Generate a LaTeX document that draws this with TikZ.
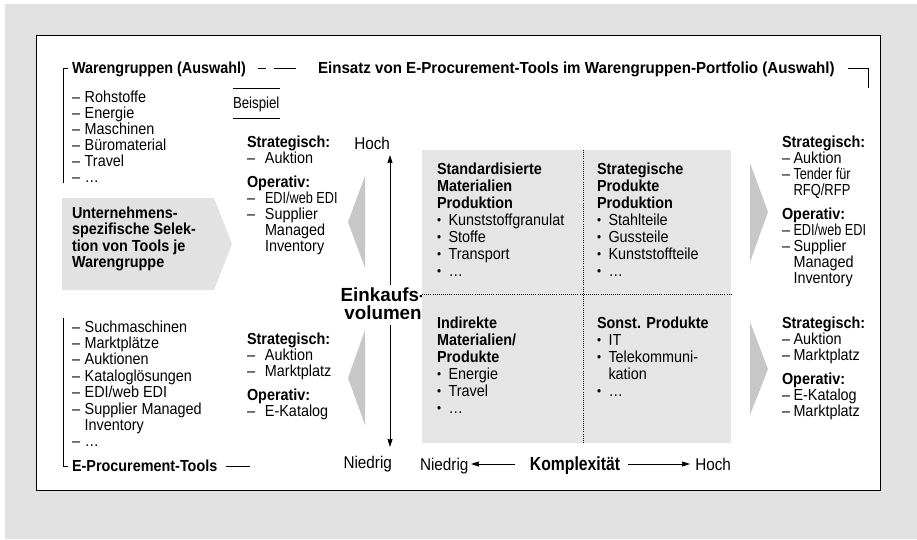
\documentclass[tikz,border=0pt]{standalone}
\usepackage{fontspec}
\setmainfont{Liberation Sans}[FakeStretch=0.9]
\usetikzlibrary{arrows.meta}
\definecolor{bggray}{RGB}{226,226,226}
\definecolor{quadgray}{RGB}{229,229,229}
\definecolor{boxgray}{RGB}{226,226,226}
\definecolor{trigray}{RGB}{199,199,199}
\newcommand\fsN{\fontsize{16}{16}\selectfont}
\newcommand\fsQ{\fontsize{16}{17}\selectfont}
\newcommand\fsAx{\fontsize{17}{18}\selectfont}
\newcommand\fsAxB{\fontsize{19}{18}\selectfont\bfseries}
\newcommand\dL[1]{\makebox[12.7pt][l]{–}#1}
\newcommand\dM[1]{\makebox[18pt][l]{–}#1}
\newcommand\dR[1]{\makebox[11.5pt][l]{–}#1}
\newcommand\bL[1]{\makebox[11.5pt][l]{\raisebox{0.6pt}{\scalebox{0.8}{•}}}#1}
\newcommand\nrw[2]{\scalebox{#1}[1]{#2}}
\begin{document}
\begin{tikzpicture}[x=1pt,y=-1pt,
  txt/.style={inner sep=0pt,outer sep=0pt,align=left,anchor=north west,font=\fsN},
  one/.style={inner sep=0pt,outer sep=0pt,anchor=base west,font=\fsN},
  brk/.style={line width=0.8pt},
  tri/.style={fill=trigray,draw=none},
  axarr/.style={line width=0.8pt,-{Stealth[length=8pt,width=5pt,inset=0.5pt]}},
  dotl/.style={line width=0.7pt,dash pattern=on 0.7pt off 1.4pt}]
\useasboundingbox (0,0) rectangle (917,539);
\fill[white] (0,0) rectangle (917,539);
\fill[bggray] (5,4) rectangle (917,539);
\draw[fill=white,line width=1pt] (36,35) rectangle (880,490);

% header
\node[one,font=\fsN\bfseries] (hl) at (72,73.5) {Warengruppen (Auswahl)};
\node[one,font=\fsN\bfseries] (hr) at (318,73.5) {\nrw{1.05}{Einsatz von E-Procurement-Tools im Warengruppen-Portfolio (Auswahl)}};
\draw[brk] (63,183) -- (63,68) -- (68,68);
\draw[brk] (258,68) -- (266,68);
\draw[brk] (274,68) -- (296,68);
\draw[brk] (848,68) -- (868,68) -- (868,88);

% left upper list
\node[txt] (lu) at (72,90.5) {\dL{Rohstoffe}\\\dL{Energie}\\\dL{Maschinen}\\\dL{Büromaterial}\\\dL{Travel}\\\dL{…}};

% left arrow box
\fill[boxgray] (62,198) -- (214,198) -- (232,244) -- (214,290) -- (62,290) -- cycle;
\node[txt,font=\fontsize{16}{16.6}\selectfont\bfseries] (ub) at (72,206.5) {Unternehmens-\\spezifische Selek-\\tion von Tools je\\Warengruppe};

% left lower list
\draw[brk] (63,318) -- (63,466) -- (68,466);
\node[txt,font=\fontsize{16}{16.4}\selectfont] (ll) at (72,320.5) {\dL{Suchmaschinen}\\\dL{Marktplätze}\\\dL{Auktionen}\\\dL{Kataloglösungen}\\\dL{EDI/web EDI}\\\dL{Supplier Managed}\\\hspace*{12.7pt}Inventory\\\dL{…}};
\node[one,font=\fsN\bfseries] (ep) at (72,471.5) {E-Procurement-Tools};
\draw[brk] (226,466) -- (250,466);

% Beispiel
\node[one] (bsp) at (233,108.5) {\nrw{0.92}{Beispiel}};
\draw[brk] (233,88) -- (280,88);
\draw[brk] (233,118) -- (280,118);

% middle columns
\node[txt] (mu) at (247,135.5) {\textbf{Strategisch:}\\\dM{Auktion}\\[8pt]\textbf{Operativ:}\\\dM{\nrw{0.88}{EDI/web EDI}}\\\dM{Supplier}\\\hspace*{18pt}Managed\\\hspace*{18pt}Inventory};
\node[txt] (ml) at (247,332.5) {\textbf{Strategisch:}\\\dM{Auktion}\\\dM{Marktplatz}\\[8pt]\textbf{Operativ:}\\\dM{E-Katalog}};
\fill[tri] (365,176) -- (348,222) -- (365,268) -- cycle;
\fill[tri] (365,330) -- (348,378) -- (365,425) -- cycle;

% vertical axis
\node[one,anchor=base east,font=\fsAx] (hochv) at (390,149) {Hoch};
\node[one,anchor=base east,font=\fsAx] (niedv) at (392,468) {Niedrig};
\node[inner sep=0pt,align=center,anchor=north,font=\fsAxB] (eink) at (383,288) {\nrw{1.1}{Einkaufs-}\\\nrw{1.1}{volumen}};
\coordinate (vu1) at (390,285);
\coordinate (vu2) at (390,155);
\coordinate (vl1) at (390,325);
\coordinate (vl2) at (390,447);
\draw[axarr] (vu1) -- (vu2);
\draw[axarr] (vl1) -- (vl2);

% quadrant
\fill[quadgray] (422,150) rectangle (731,443);
\draw[dotl] (583,150) -- (583,443);
\draw[dotl] (422,294) -- (731,294);
\node[txt,font=\fsQ] (qa) at (437,162.5) {\textbf{Standardisierte}\\\textbf{Materialien}\\\textbf{Produktion}\\\bL{Kunststoffgranulat}\\\bL{Stoffe}\\\bL{Transport}\\\bL{…}};
\node[txt,font=\fsQ] (qb) at (597,162.5) {\textbf{Strategische}\\\textbf{Produkte}\\\textbf{Produktion}\\\bL{Stahlteile}\\\bL{Gussteile}\\\bL{Kunststoffteile}\\\bL{…}};
\node[txt,font=\fsQ] (qc) at (437,316.5) {\textbf{Indirekte}\\\textbf{Materialien/}\\\textbf{Produkte}\\\bL{Energie}\\\bL{Travel}\\\bL{…}};
\node[txt,font=\fsQ] (qd) at (597,316.5) {\textbf{Sonst. Produkte}\\\bL{IT}\\\bL{Telekommuni-}\\\hspace*{11.5pt}kation\\\bL{…}};

% horizontal axis
\node[one,font=\fsAx] (niedh) at (420,470) {Niedrig};
\node[one,anchor=base,font=\fsAxB] (komp) at (575,470) {\nrw{0.92}{Komplexität}};
\node[one,anchor=base east,font=\fsAx] (hochh) at (731,470) {Hoch};
\coordinate (ha1) at (515,464);
\coordinate (ha2) at (471,464);
\coordinate (hb1) at (628,464);
\coordinate (hb2) at (690,464);
\draw[axarr] (ha1) -- (ha2);
\draw[axarr] (hb1) -- (hb2);

% right column
\fill[tri] (750,163) -- (768,212) -- (750,262) -- cycle;
\fill[tri] (750,322) -- (768,369) -- (750,415) -- cycle;
\node[txt] (ru) at (782,135.5) {\textbf{Strategisch:}\\\dR{Auktion}\\\dR{\nrw{0.88}{Tender für}}\\\hspace*{11.5pt}\nrw{0.9}{RFQ/RFP}\\[8pt]\textbf{Operativ:}\\\dR{\nrw{0.88}{EDI/web EDI}}\\\dR{Supplier}\\\hspace*{11.5pt}Managed\\\hspace*{11.5pt}Inventory};
\node[txt] (rl) at (782,316.5) {\textbf{Strategisch:}\\\dR{Auktion}\\\dR{Marktplatz}\\[8pt]\textbf{Operativ:}\\\dR{E-Katalog}\\\dR{Marktplatz}};
\end{tikzpicture}
\end{document}
